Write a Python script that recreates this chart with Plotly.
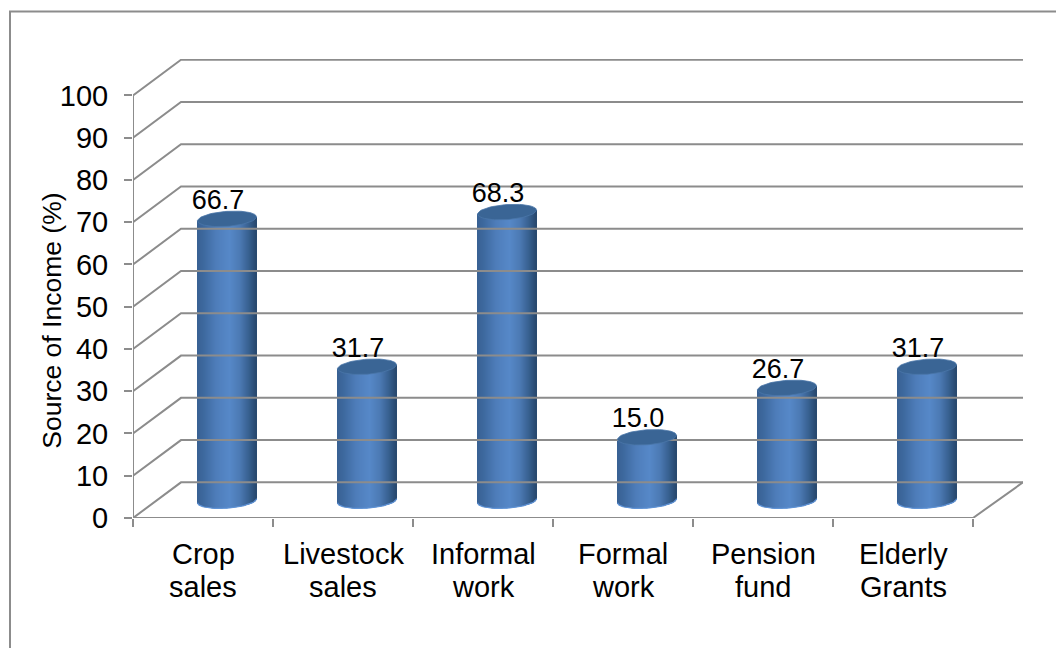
import numpy as np
import plotly.graph_objects as go

category_line1 = ["Crop", "Livestock", "Informal", "Formal", "Pension", "Elderly"]
category_line2 = ["sales", "sales", "work", "work", "fund", "Grants"]
values = [66.7, 31.7, 68.3, 15.0, 26.7, 31.7]
value_ticks = [0, 10, 20, 30, 40, 50, 60, 70, 80, 90, 100]
axis_title = "Source of Income (%)"

W, H = 1056, 648
L, R, T, B = 133, 1023, 58.5, 518
CAT_PX = 140.0
UNIT_PX = (518 - 95) / 100.0
DX = 48 / CAT_PX
DY = 35.7 / UNIT_PX
x0 = -0.5
x1 = x0 + (R - L) / CAT_PX
y1 = (B - T) / UNIT_PX
GRID = "#8c8c8c"
FONT = "Liberation Sans, Arial, sans-serif"

fig = go.Figure()

# walls and floor
gx, gy = [], []
for v in value_ticks:
    gx += [x0, x0 + DX, x1, None]
    gy += [v, v + DY, v + DY, None]
gx += [x0, x0, None, x0, 5.5, x1]
gy += [0, 100, None, 0, 0, DY]
fig.add_trace(go.Scatter(x=gx, y=gy, mode="lines", line=dict(color=GRID, width=2),
                         hoverinfo="skip", showlegend=False))

# cylinder shading
bar_w = 59 / CAT_PX
ry = 7.5 / UNIT_PX
tilt = 2.0 / UNIT_PX
mid = 4.1
n = 59
t = (np.arange(n) + 0.5) / n * 2 - 1
stops_t = [-1.0, -0.75, -0.35, 0.1, 0.45, 0.8, 1.0]
stops_c = [(56, 96, 146), (62, 106, 160), (78, 125, 186), (86, 136, 200), (76, 122, 180), (52, 92, 138), (40, 72, 110)]
rgb = np.array([[np.interp(a, stops_t, [c[k] for c in stops_c]) for k in range(3)] for a in t])
colors = [f"rgb({r:.0f},{g:.0f},{b:.0f})" for r, g, b in rgb]

bx, bb, bh, bc = [], [], [], []
for i, v in enumerate(values):
    for a, c in zip(t, colors):
        h = ry * np.sqrt(1 - a * a)
        bottom = mid + tilt * a - h
        top = v + mid + tilt * a
        bx.append(i + DX / 2 + a * bar_w / 2)
        bb.append(bottom)
        bh.append(top - bottom)
        bc.append(c)
fig.add_trace(go.Bar(x=bx, y=bh, base=bb, width=1.25 / CAT_PX,
                     marker=dict(color=bc, line=dict(width=0)),
                     hoverinfo="skip", showlegend=False))

# cylinder caps and lit lower rims
th = np.linspace(0, 2 * np.pi, 73)
low = np.linspace(np.pi, 2 * np.pi, 37)
for i, v in enumerate(values):
    fig.add_trace(go.Scatter(
        x=i + DX / 2 + bar_w / 2 * np.cos(low),
        y=mid + tilt * np.cos(low) + ry * np.sin(low),
        mode="lines", line=dict(color="#5f93d6", width=1.2),
        hoverinfo="skip", showlegend=False))
    fig.add_trace(go.Scatter(
        x=i + DX / 2 + bar_w / 2 * np.cos(th),
        y=v + mid + tilt * np.cos(th) + ry * np.sin(th),
        mode="lines", fill="toself", fillcolor="#3a6595",
        line=dict(color="#4a76a8", width=0.8),
        hoverinfo="skip", showlegend=False))

# data labels
fig.add_trace(go.Scatter(
    x=[i + 15 / CAT_PX for i in range(len(values))],
    y=[v + DY - 0.4 for v in values],
    mode="text", text=[f"{v:.1f}" for v in values],
    textposition="middle center",
    textfont=dict(family=FONT, size=27, color="#000000"),
    hoverinfo="skip", showlegend=False))

annotations = []
for i, (a, b) in enumerate(zip(category_line1, category_line2)):
    for txt, shift in ((a, -36), (b, -69)):
        annotations.append(dict(x=i, y=0, xref="x", yref="y", text=txt, showarrow=False,
                                xanchor="center", yanchor="middle", yshift=shift,
                                font=dict(size=29, family=FONT, color="#000000")))
annotations.append(dict(x=(52 - L) / (R - L), y=(B - 320.5) / (B - T), xref="paper", yref="paper",
                        text=axis_title, textangle=-90, showarrow=False,
                        xanchor="center", yanchor="middle",
                        font=dict(size=26.5, family=FONT, color="#000000")))

fig.update_layout(
    width=W, height=H, autosize=False,
    margin=dict(l=L, r=W - R, t=T, b=H - B, pad=0),
    paper_bgcolor="white", plot_bgcolor="white",
    font=dict(family=FONT, color="#000000"),
    barmode="overlay", showlegend=False,
    xaxis=dict(range=[x0, x1], tickmode="array", tickvals=[x0 + k for k in range(len(values) + 1)],
               showticklabels=False, ticks="outside", ticklen=8, tickwidth=2, tickcolor=GRID,
               showgrid=False, zeroline=False, showline=False),
    yaxis=dict(range=[0, y1], tickmode="array", tickvals=value_ticks,
               ticks="outside", ticklen=8, tickwidth=2, tickcolor=GRID, ticklabelstandoff=10,
               showgrid=False, zeroline=False, showline=False,
               tickfont=dict(size=29, family=FONT, color="#000000")),
    annotations=annotations,
    shapes=[dict(type="rect", xref="paper", yref="paper", layer="below",
                 x0=(10 - L) / (R - L), x1=(1100 - L) / (R - L),
                 y0=(B - 700) / (B - T), y1=(B - 11) / (B - T),
                 line=dict(color="#8c8c8c", width=2), fillcolor="white")],
)
fig.write_html("out.html", config={"displayModeBar": False},
               post_script="document.body.style.margin='0';document.body.style.overflow='hidden';")
